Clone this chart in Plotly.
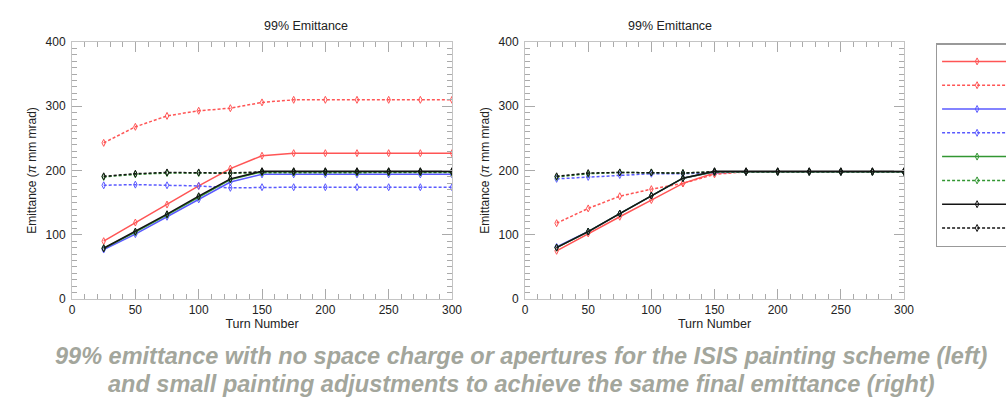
import plotly.graph_objects as go

turns = [25, 50, 75, 100, 125, 150, 175, 200, 225, 250, 275, 300]

# Left panel: ISIS painting scheme
left_red_solid = [90, 119, 147, 176, 203, 223, 227, 227, 227, 227, 227, 227]
left_red_dash = [243, 268, 285, 293, 297, 306, 310, 310, 310, 310, 310, 310]
left_blue_solid = [77, 101, 128, 155, 182, 194, 194, 194, 194, 194, 194, 194]
left_blue_dash = [177, 178, 177, 176, 173, 174, 174, 174, 174, 174, 174, 174]
left_green_solid = [79, 104, 131, 159, 186, 198, 198, 198, 198, 198, 198, 198]
left_green_dash = [190, 194, 196, 196, 196, 197, 197, 197, 197, 197, 197, 197]
left_black_solid = [79, 105, 132, 160, 187, 199, 199, 199, 199, 199, 199, 199]
left_black_dash = [191, 195, 197, 197, 196, 198, 198, 198, 198, 198, 198, 198]

# Right panel: small painting adjustments
right_red_solid = [75, 102, 128, 154, 180, 196, 198, 198, 198, 198, 198, 198]
right_red_dash = [118, 141, 160, 171, 180, 194, 198, 198, 198, 198, 198, 198]
right_blue_solid = [81, 105, 133, 161, 188, 198, 198, 198, 198, 198, 198, 198]
right_blue_dash = [187, 190, 193, 195, 195, 197, 198, 198, 198, 198, 198, 198]
right_green_solid = [80, 105, 133, 161, 188, 198, 198, 198, 198, 198, 198, 198]
right_green_dash = [190, 195, 197, 197, 196, 198, 198, 198, 198, 198, 198, 198]
right_black_solid = [80, 105, 133, 161, 188, 199, 199, 199, 199, 199, 199, 199]
right_black_dash = [191, 196, 197, 197, 196, 198, 198, 198, 198, 198, 198, 198]

panel_title = "99% Emittance"
x_title = "Turn Number"
y_title = "Emittance (<i>π</i> mm mrad)"
caption_lines = ["99% emittance with no space charge or apertures for the ISIS painting scheme (left)",
                 "and small painting adjustments to achieve the same final emittance (right)"]

series_names = ["", " ", "  ", "   ", "    ", "     ", "      ", "       "]
series_colors = ["rgb(255,85,85)", "rgb(255,85,85)", "rgb(90,90,255)", "rgb(90,90,255)",
                 "rgb(50,150,50)", "rgb(50,150,50)", "rgb(20,20,20)", "rgb(20,20,20)"]
series_dash = ["solid", "3px,2px", "solid", "3px,2px", "solid", "3px,2px", "solid", "3px,2px"]

left_data = [left_red_solid, left_red_dash, left_blue_solid, left_blue_dash,
             left_green_solid, left_green_dash, left_black_solid, left_black_dash]
right_data = [right_red_solid, right_red_dash, right_blue_solid, right_blue_dash,
              right_green_solid, right_green_dash, right_black_solid, right_black_dash]

fig = go.Figure()
for i in range(8):
    fig.add_trace(go.Scatter(
        x=turns, y=left_data[i], mode="lines+markers", name=series_names[i],
        legendgroup=str(i), showlegend=True,
        line=dict(color=series_colors[i], width=1.5, dash=series_dash[i]),
        marker=dict(symbol="diamond-tall-open", size=5, color=series_colors[i], line=dict(width=1)),
        xaxis="x", yaxis="y"))
for i in range(8):
    fig.add_trace(go.Scatter(
        x=turns, y=right_data[i], mode="lines+markers", name=series_names[i],
        legendgroup=str(i), showlegend=False,
        line=dict(color=series_colors[i], width=1.5, dash=series_dash[i]),
        marker=dict(symbol="diamond-tall-open", size=5, color=series_colors[i], line=dict(width=1)),
        xaxis="x2", yaxis="y2"))

lab_font = "Liberation Sans, Arial, sans-serif"
tickfont = dict(family=lab_font, size=12, color="#222")
common_x = dict(range=[0, 300], dtick=50, ticks="inside", ticklen=10, tickcolor="#aaa",
                showline=True, linecolor="#c4c4c4", linewidth=1, mirror="ticks",
                showgrid=False, zeroline=False, tickfont=tickfont,
                minor=dict(dtick=10, ticks="inside", ticklen=5, tickcolor="#aaa", showgrid=False),
                title=dict(text=x_title, font=dict(family=lab_font, size=12.5, color="#222"), standoff=0))
common_y = dict(range=[0, 400], dtick=100, ticks="inside", ticklen=10, tickcolor="#aaa",
                showline=True, linecolor="#c4c4c4", linewidth=1, mirror="ticks",
                showgrid=False, zeroline=False, tickfont=tickfont, ticklabelstandoff=3,
                minor=dict(dtick=10, ticks="inside", ticklen=5, tickcolor="#aaa", showgrid=False),
                title=dict(text=y_title, font=dict(family=lab_font, size=12, color="#222"), standoff=6))

H = 411.0
cap_font = dict(family="Liberation Sans, Arial, sans-serif", size=23.5, color="#a3a69c", weight=700, style="italic")
fig.update_layout(
    width=1006, height=411,
    paper_bgcolor="white", plot_bgcolor="white",
    margin=dict(l=0, r=0, t=0, b=0, autoexpand=False),
    xaxis=dict(domain=[0.0716, 0.4493], anchor="y", **common_x),
    yaxis=dict(domain=[0.2725, 0.8978], anchor="x", **common_y),
    xaxis2=dict(domain=[0.5219, 0.8986], anchor="y2", **common_x),
    yaxis2=dict(domain=[0.2725, 0.8978], anchor="x2", **common_y),
    showlegend=True,
    legend=dict(x=0.930, xanchor="left", y=(H - 43) / H, yanchor="top",
                bordercolor="#999", borderwidth=1.5, bgcolor="white",
                itemwidth=70, font=dict(size=16), tracegroupgap=0,
                traceorder="normal"),
    annotations=[
        dict(text=panel_title, x=0.2605, y=(H - 26) / H, yanchor="middle", xref="paper", yref="paper",
             showarrow=False, font=dict(family=lab_font, size=12.5, color="#222")),
        dict(text=panel_title, x=0.7102, y=(H - 26) / H, yanchor="middle", xref="paper", yref="paper",
             showarrow=False, font=dict(family=lab_font, size=12.5, color="#222")),
        dict(text=caption_lines[0], x=0.518, y=(H - 356) / H, yanchor="middle", xref="paper", yref="paper",
             showarrow=False, font=cap_font),
        dict(text=caption_lines[1], x=0.518, y=(H - 384) / H, yanchor="middle", xref="paper", yref="paper",
             showarrow=False, font=cap_font),
    ],
)

fig.write_html("out.html", config={"displayModeBar": False},
               post_script="document.body.style.margin='0';document.body.style.overflow='hidden';")
